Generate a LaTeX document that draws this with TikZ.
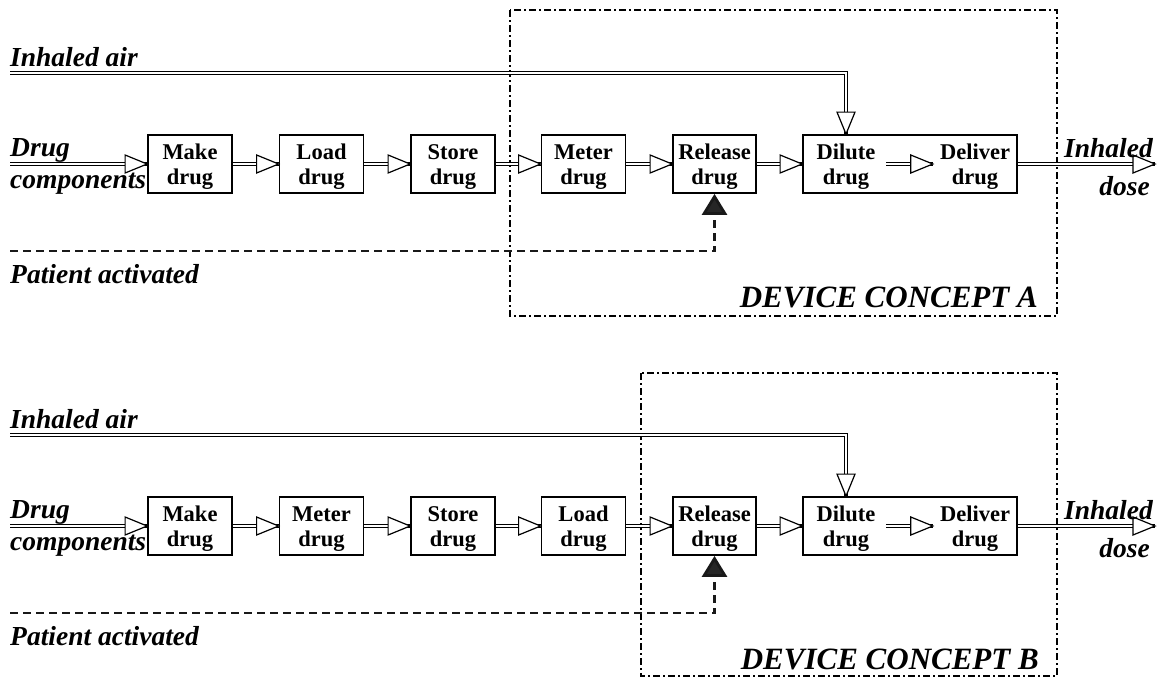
\documentclass[tikz,border=0pt]{standalone}
\usepackage{fontspec}
\setmainfont{Liberation Serif}
\usetikzlibrary{arrows.meta,decorations.markings}

\tikzset{
  stage/.style={draw, line width=1.8pt, minimum width=84pt, minimum height=58pt,
    inner sep=0pt, text width=80pt, align=center, font=\fontsize{22.5}{25}\selectfont\bfseries,
    execute at begin node={\rule{0pt}{20pt}}},
  stagetext/.style={inner sep=0pt, align=center, font=\fontsize{22.5}{25}\selectfont\bfseries,
    execute at begin node={\rule{0pt}{20pt}}},
  lbl/.style={inner sep=0pt, font=\fontsize{27.5}{30}\selectfont\bfseries\itshape},
  devlbl/.style={inner sep=0pt, anchor=base east, font=\fontsize{31}{33}\selectfont\bfseries\itshape},
  % double-line flow with an open triangular head
  flow/.style={double=white, double distance=2.2pt, line width=1.2pt,
    postaction={decorate, decoration={markings, mark=at position 1 with {
      \draw[line width=1.2pt, fill=white, solid, line join=miter]
        (0pt,0pt) -- (-22pt,9pt) -- (-22pt,-9pt) -- cycle;}}}},
  trigger/.style={draw=black!90, line width=2.8pt, dash pattern=on 8pt off 5pt,
    -{Triangle[length=21pt, width=25pt, fill=black!85]}},
  device/.style={draw, line width=1.8pt, dash pattern=on 7pt off 3pt on 2pt off 3pt},
}

\begin{document}
\begin{tikzpicture}[x=1pt, y=-1pt]
\useasboundingbox (0,0) rectangle (1161,678);

% ---------------- Concept A ----------------
\draw[device] (510,10) rectangle (1057,316);

\coordinate (a-air) at (10,73);
\coordinate (a-in) at (10,164);
\coordinate (a-out) at (1155,164);
\coordinate (a-pat) at (10,251);

\node[stage] (a-make) at (190,164) {Make\\drug};
\node[stage] (a-load) at (321.5,164) {Load\\drug};
\node[stage] (a-store) at (453,164) {Store\\drug};
\node[stage] (a-meter) at (583.5,164) {Meter\\drug};
\node[stage, minimum width=83pt] (a-release) at (714.5,164) {Release\\drug};
\node[stage, minimum width=214pt] (a-dd) at (910,164) {};
\node[stagetext, text width=80pt] (a-dilute) at (846,164) {Dilute\\drug};
\node[stagetext, text width=84pt] (a-deliver) at (975,164) {Deliver\\drug};
\coordinate (a-drop) at (a-dd.north -| a-dilute);

\draw[flow] (a-in) -- (a-make);
\draw[flow] (a-make) -- (a-load);
\draw[flow] (a-load) -- (a-store);
\draw[flow] (a-store) -- (a-meter);
\draw[flow] (a-meter) -- (a-release);
\draw[flow] (a-release) -- (a-dd);
\draw[flow] (a-dilute) -- (a-deliver);
\draw[flow] (a-dd) -- (a-out);
\draw[flow] (a-air) -| (a-drop);
\draw[trigger] (a-pat) -| (a-release);

\node[lbl, anchor=base west] (a-airlbl) at (10,66) {Inhaled air};
\node[lbl, anchor=base west] (a-druglbl) at (10,156) {Drug};
\node[lbl, anchor=base west] (a-complbl) at (10,188) {components};
\node[lbl, anchor=base east] (a-inhlbl) at (1153,157) {Inhaled};
\node[lbl, anchor=base east] (a-doselbl) at (1150,195) {dose};
\node[lbl, anchor=base west] (a-patlbl) at (10,283) {Patient activated};
\node[devlbl] (a-devlbl) at (1038,307) {DEVICE CONCEPT A};

% ---------------- Concept B ----------------
\begin{scope}[shift={(0,362)}]
\draw[device] (641,11) rectangle (1057,314);

\coordinate (b-air) at (10,73);
\coordinate (b-in) at (10,164);
\coordinate (b-out) at (1155,164);
\coordinate (b-pat) at (10,251);

\node[stage] (b-make) at (190,164) {Make\\drug};
\node[stage] (b-meter) at (321.5,164) {Meter\\drug};
\node[stage] (b-store) at (453,164) {Store\\drug};
\node[stage] (b-load) at (583.5,164) {Load\\drug};
\node[stage, minimum width=83pt] (b-release) at (714.5,164) {Release\\drug};
\node[stage, minimum width=214pt] (b-dd) at (910,164) {};
\node[stagetext, text width=80pt] (b-dilute) at (846,164) {Dilute\\drug};
\node[stagetext, text width=84pt] (b-deliver) at (975,164) {Deliver\\drug};
\coordinate (b-drop) at (b-dd.north -| b-dilute);

\draw[flow] (b-in) -- (b-make);
\draw[flow] (b-make) -- (b-meter);
\draw[flow] (b-meter) -- (b-store);
\draw[flow] (b-store) -- (b-load);
\draw[flow] (b-load) -- (b-release);
\draw[flow] (b-release) -- (b-dd);
\draw[flow] (b-dilute) -- (b-deliver);
\draw[flow] (b-dd) -- (b-out);
\draw[flow] (b-air) -| (b-drop);
\draw[trigger] (b-pat) -| (b-release);

\node[lbl, anchor=base west] (b-airlbl) at (10,66) {Inhaled air};
\node[lbl, anchor=base west] (b-druglbl) at (10,156) {Drug};
\node[lbl, anchor=base west] (b-complbl) at (10,188) {components};
\node[lbl, anchor=base east] (b-inhlbl) at (1153,157) {Inhaled};
\node[lbl, anchor=base east] (b-doselbl) at (1150,195) {dose};
\node[lbl, anchor=base west] (b-patlbl) at (10,283) {Patient activated};
\node[devlbl] (b-devlbl) at (1039,307) {DEVICE CONCEPT B};
\end{scope}
\end{tikzpicture}
\end{document}
